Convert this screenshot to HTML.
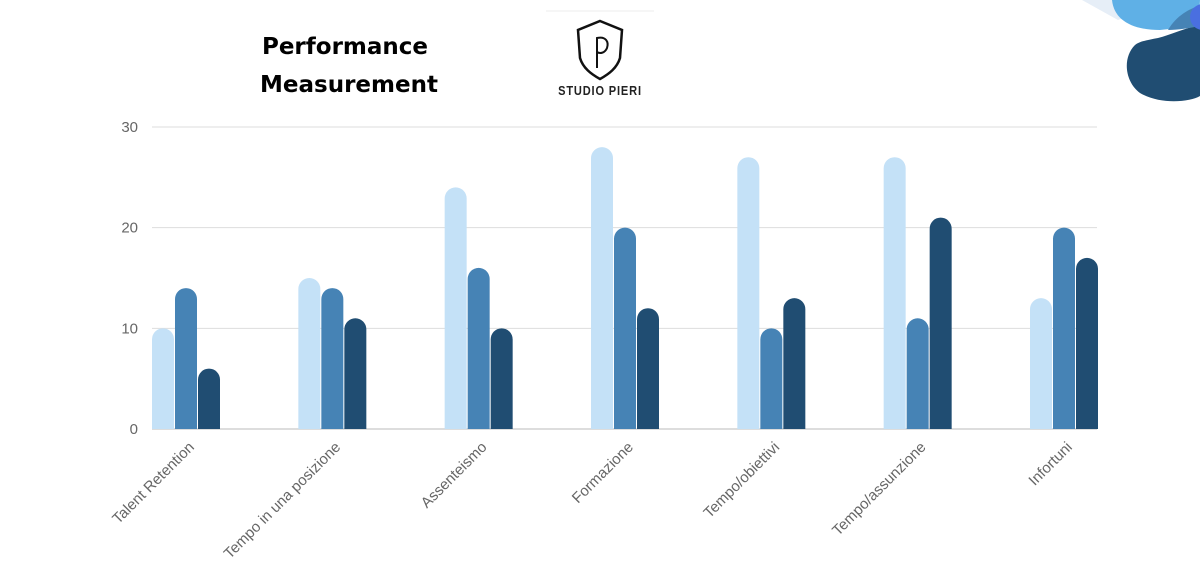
<!DOCTYPE html>
<html><head><meta charset="utf-8"><style>
body{margin:0;width:1200px;height:565px;background:#fff;overflow:hidden;font-family:"Liberation Sans",sans-serif;}
svg{position:absolute;left:0;top:0}
</style></head><body>
<svg width="1200" height="565">
  <g>
    <path d="M1082 0 L1125 0 L1135 14 L1118 20 Z" fill="#e6eef7"/>
    <path d="M1112 0 C1114 20 1132 30 1160 30 C1185 28 1200 20 1200 0 Z" fill="#5fb0e6"/>
    <path d="M1135 45 C1122 58 1125 82 1140 93 C1160 105 1190 102 1200 96 L1200 25 C1185 28 1170 35 1158 38 C1148 40 1140 41 1135 45 Z" fill="#204d72"/>
    <path d="M1168 30 C1176 16 1190 8 1200 6 L1200 26 C1190 28 1178 30 1168 30Z" fill="#4683b5"/>
    <circle cx="1203" cy="17" r="13" fill="#4a6fe0"/>
  </g>
  <g font-family="DejaVu Sans, sans-serif" font-weight="bold" font-size="23" fill="#000" text-anchor="middle">
    <text x="345" y="54">Performance</text>
    <text x="349" y="92">Measurement</text>
  </g>
  <g>
    <line x1="546" y1="11" x2="654" y2="11" stroke="#eee"/>
    <path d="M600 21 L622 30 L620 58 C617 68 609 74 600 79 C591 74 583 68 580 58 L578 30 Z" fill="none" stroke="#111" stroke-width="2.5"/>
    <path d="M597 68 L597 38 C606 36 609 42 607 48 C605 53 600 54 597 52" fill="none" stroke="#111" stroke-width="2"/>
    <text x="600" y="95" text-anchor="middle" font-size="13" font-weight="bold" letter-spacing="1" fill="#222" transform="translate(600 0) scale(0.85 1) translate(-600 0)">STUDIO PIERI</text>
  </g>
  <g id="plot"></g>
</svg>
<script>
const categories=["Talent Retention","Tempo in una posizione","Assenteismo","Formazione","Tempo/obiettivi","Tempo/assunzione","Infortuni"];
const series1=[10,15,24,28,27,27,13];
const series2=[14,14,16,20,10,11,20];
const series3=[6,11,10,12,13,21,17];
const ticks=[0,10,20,30];
const colors=["#c4e1f7","#4683b5","#204d72"];
const NS="http://www.w3.org/2000/svg";
const g=document.getElementById('plot');
const x0=152,x1=1097,y0=429,y30=127;
const yS=v=>y0-(v/30)*(y0-y30);
const band=(x1-x0-67)/(categories.length-1);
const xS=i=>x0+i*band;
function mk(t,a){const e=document.createElementNS(NS,t);for(const k in a)e.setAttribute(k,a[k]);g.appendChild(e);return e;}
ticks.forEach(t=>{
  const l=mk('line',{x1:x0,x2:x1,y1:yS(t),y2:yS(t),stroke:t===0?'#bbb':'#ddd','stroke-width':1});
  
  
  const tx=mk('text',{x:138,y:yS(t)+5,'text-anchor':'end','font-size':15,fill:'#666'});
  tx.textContent=t;
  
  
});
const all=[series1,series2,series3];
const bw=22;
categories.forEach((c,i)=>{
  all.forEach((s,j)=>{
    const x=xS(i)+j*(bw+1),y=yS(s[i]),r=bw/2;
    const p=mk('path',{d:`M${x} ${y0} L${x} ${y+r} A${r} ${r} 0 0 1 ${x+bw} ${y+r} L${x+bw} ${y0} Z`,fill:colors[j]});
    
    
  });
  const cx=xS(i)+43,cy=448;
  const t=mk('text',{x:cx,y:cy,'text-anchor':'end','font-size':15,fill:'#666',transform:`rotate(-45 ${cx} ${cy})`});
  t.textContent=c;
  
  
});
</script>
</body></html>
